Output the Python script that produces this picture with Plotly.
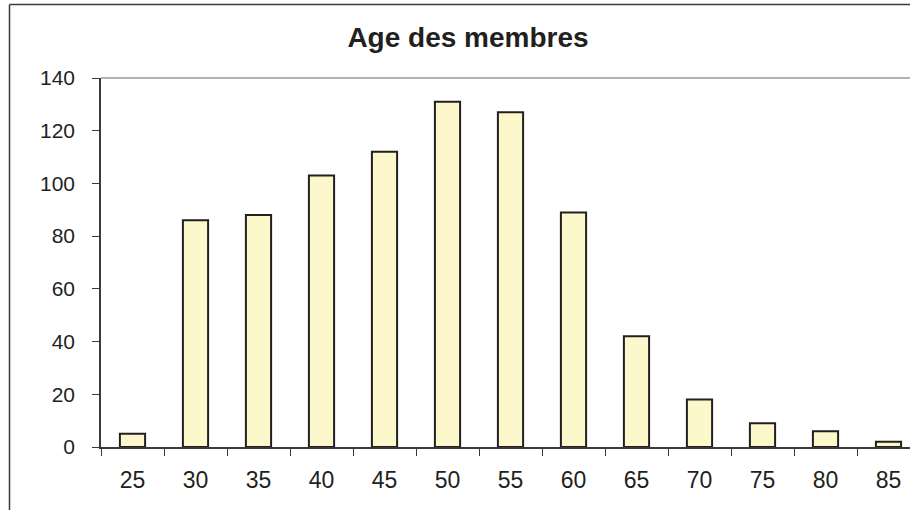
import plotly.graph_objects as go

ages = ["25", "30", "35", "40", "45", "50", "55", "60", "65", "70", "75", "80", "85"]
counts = [5, 86, 88, 103, 112, 131, 127, 89, 42, 18, 9, 6, 2]
y_ticks = [0, 20, 40, 60, 80, 100, 120, 140]

W, H = 910, 510
L, T, B, R = 101, 78, 63, 0
TEXT = "#231F20"

fig = go.Figure()
fig.add_trace(go.Bar(
    x=ages, y=counts,
    marker=dict(color="#FCF8CC", line=dict(color="#231F20", width=2)),
    hoverinfo="x+y",
))

pw = W - L - R
ph = H - T - B
def px_x(p):
    return (p - L) / pw
def px_y(p):
    return 1 - (p - T) / ph

fig.update_layout(
    width=W, height=H,
    margin=dict(l=L, r=R, t=T, b=B),
    paper_bgcolor="white", plot_bgcolor="white",
    showlegend=False,
    bargap=0.6,
    font=dict(family="Liberation Sans, Arial, sans-serif", color=TEXT),
    title=dict(text="<b>Age des membres</b>", x=468 / W, xanchor="center",
               y=1 - 37 / H, yanchor="middle", yref="container",
               font=dict(size=28, color=TEXT)),
    xaxis=dict(
        type="category", range=[-0.5, pw / 63.0 - 0.5],
        showline=True, linecolor="#3a3a3a", linewidth=1.5,
        ticks="outside", ticklen=7, tickwidth=1, tickcolor="#3a3a3a",
        tickson="boundaries", showgrid=False, zeroline=False,
        tickfont=dict(size=23, color=TEXT), ticklabelstandoff=12,
    ),
    yaxis=dict(
        range=[0, 140], tickvals=y_ticks,
        showline=True, linecolor="#3a3a3a", linewidth=1.5,
        ticks="outside", ticklen=7, tickwidth=1, tickcolor="#3a3a3a",
        showgrid=False, zeroline=False,
        tickfont=dict(size=21, color=TEXT), ticklabelstandoff=13,
    ),
    shapes=[
        # chart area border (left and top)
        dict(type="line", xref="paper", yref="paper",
             x0=px_x(9.5), x1=px_x(9.5), y0=px_y(4.5), y1=px_y(515),
             line=dict(color="#3a3a3a", width=1.5)),
        dict(type="line", xref="paper", yref="paper",
             x0=px_x(9.5), x1=px_x(915), y0=px_y(4.5), y1=px_y(4.5),
             line=dict(color="#3a3a3a", width=1.5)),
        # plot area top border
        dict(type="line", xref="paper", yref="paper",
             x0=0, x1=1, y0=1, y1=1,
             line=dict(color="#9a9a9a", width=1.5)),
    ],
)

fig.write_html("out.html", config={"displayModeBar": False},
               post_script="document.body.style.margin='0';")
